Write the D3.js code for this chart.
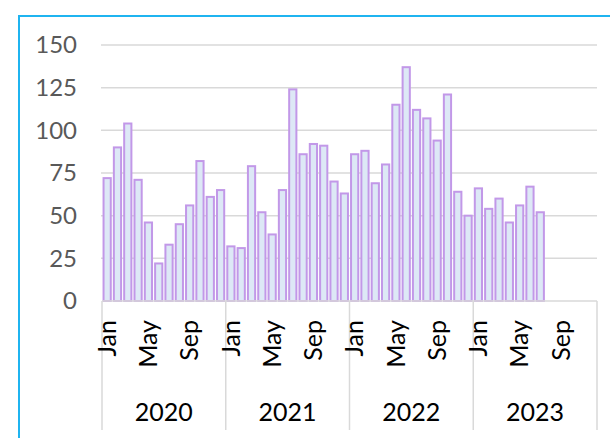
<!DOCTYPE html>
<html>
<head>
<meta charset="utf-8">
<script src="https://cdn.jsdelivr.net/npm/d3@7"></script>
<style>
  body { margin: 0; background: #fff; }
  svg text { font-family: Lato, "Liberation Sans", sans-serif; }
</style>
</head>
<body>
<svg id="chart" width="610" height="438"></svg>
<script>
// monthly counts, Jan 2020 .. Jul 2023
const years = ["2020", "2021", "2022", "2023"];
const monthNames = ["Jan","Feb","Mar","Apr","May","Jun","Jul","Aug","Sep","Oct","Nov","Dec"];
const shownMonths = ["Jan", "May", "Sep"];
const values = [
  72, 90, 104, 71, 46, 22, 33, 45, 56, 82, 61, 65,
  32, 31, 79, 52, 39, 65, 124, 86, 92, 91, 70, 63,
  86, 88, 69, 80, 115, 137, 112, 107, 94, 121, 64, 50,
  66, 54, 60, 46, 56, 67, 52
];
const yTicks = [0, 25, 50, 75, 100, 125, 150];

// one category per month over the whole 4 years
let cats = [];
years.forEach(y => monthNames.forEach(m => cats.push({year: y, month: m, key: y + "-" + m})));
let data = values.map((v, i) => ({key: cats[i].key, value: v}));

const svg = d3.select("#chart");
const plot = {left: 102, right: 597, top: 45, bottom: 301};

let x = d3.scaleBand()
  .domain(cats.map(c => c.key))
  .range([plot.left, plot.right])
  .paddingInner(0.3)
  .paddingOuter(0.15);

let y = d3.scaleLinear()
  .domain([0, 150])
  .range([plot.bottom, plot.top]);

// frame (only top and left edge fall inside the picture)
svg.append("path")
  .attr("d", "M19,438 V16 H610")
  .attr("fill", "none")
  .attr("stroke", "#1fb4f0")
  .attr("stroke-width", 2);

// gridlines
svg.append("g")
  .selectAll("line")
  .data(yTicks.filter(t => t > 0))
  .enter().append("line")
  .attr("x1", plot.left - 1)
  .attr("x2", plot.right)
  .attr("y1", d => y(d))
  .attr("y2", d => y(d))
  .attr("stroke", "#d9d9d9")
  .attr("stroke-width", 1.5);

// y labels
svg.append("g")
  .selectAll("text")
  .data(yTicks)
  .enter().append("text")
  .attr("x", 77)
  .attr("y", d => y(d))
  .attr("dy", "0.35em")
  .attr("text-anchor", "end")
  .attr("fill", "#595959")
  .style("font-size", "24px")
  .text(d => d);

// bars
svg.append("g")
  .selectAll("rect")
  .data(data)
  .enter().append("rect")
  .attr("x", d => x(d.key))
  .attr("width", x.bandwidth())
  .attr("y", d => y(d.value))
  .attr("height", d => y(0) - y(d.value))
  .attr("fill", "#dde8f6")
  .attr("stroke", "#c298e8")
  .attr("stroke-width", 2);

// category axis line
svg.append("line")
  .attr("x1", plot.left)
  .attr("x2", plot.right)
  .attr("y1", plot.bottom)
  .attr("y2", plot.bottom)
  .attr("stroke", "#d9d9d9")
  .attr("stroke-width", 1.5);

// year separators
let step = x.step();
let bounds = d3.range(years.length + 1).map(i => plot.left + i * 12 * step);
svg.append("g")
  .selectAll("line")
  .data(bounds)
  .enter().append("line")
  .attr("x1", d => d)
  .attr("x2", d => d)
  .attr("y1", plot.bottom)
  .attr("y2", 430)
  .attr("stroke", "#d9d9d9")
  .attr("stroke-width", 1.5);

// month labels (rotated)
svg.append("g")
  .selectAll("text")
  .data(cats.filter(c => shownMonths.includes(c.month)))
  .enter().append("text")
  .attr("transform", d => "translate(" + (x(d.key) + x.bandwidth() / 2) + ",320) rotate(-90)")
  .attr("dy", "0.35em")
  .attr("text-anchor", "end")
  .attr("fill", "#000")
  .style("font-size", "25px")
  .text(d => d.month);

// year labels
svg.append("g")
  .selectAll("text")
  .data(years)
  .enter().append("text")
  .attr("x", (d, i) => (bounds[i] + bounds[i + 1]) / 2)
  .attr("y", 421)
  .attr("text-anchor", "middle")
  .attr("fill", "#000")
  .style("font-size", "25px")
  .text(d => d);
</script>
</body>
</html>
